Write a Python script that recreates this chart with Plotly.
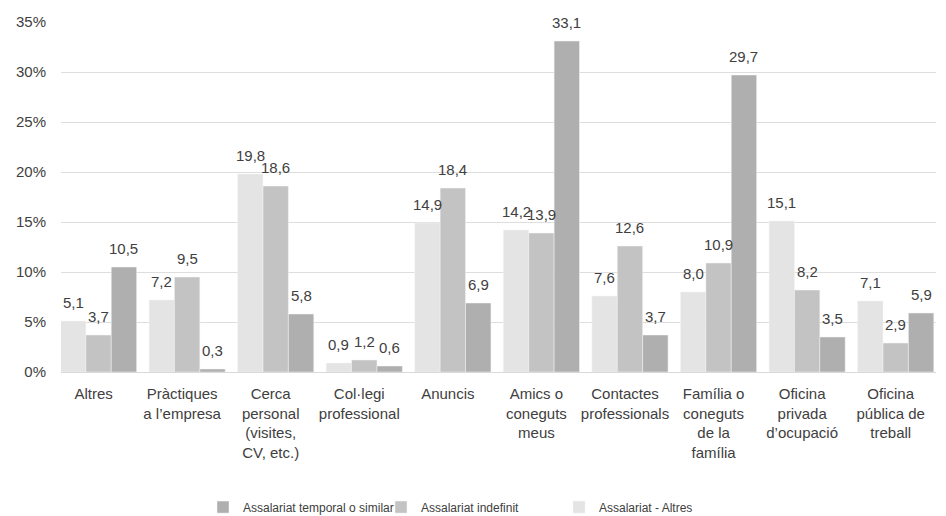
import plotly.graph_objects as go

categories = [
    "Altres",
    "Pràctiques<br>a l’empresa",
    "Cerca<br>personal<br>(visites,<br>CV, etc.)",
    "Col·legi<br>professional",
    "Anuncis",
    "Amics o<br>coneguts<br>meus",
    "Contactes<br>professionals",
    "Família o<br>coneguts<br>de la<br>família",
    "Oficina<br>privada<br>d’ocupació",
    "Oficina<br>pública de<br>treball",
]

altres = [5.1, 7.2, 19.8, 0.9, 14.9, 14.2, 7.6, 8.0, 15.1, 7.1]
indefinit = [3.7, 9.5, 18.6, 1.2, 18.4, 13.9, 12.6, 10.9, 8.2, 2.9]
temporal = [10.5, 0.3, 5.8, 0.6, 6.9, 33.1, 3.7, 29.7, 3.5, 5.9]

series_names = ["Assalariat - Altres", "Assalariat indefinit", "Assalariat temporal o similar"]
series_values = [altres, indefinit, temporal]
series_colors = ["#e4e4e4", "#c3c3c3", "#afafaf"]

y_ticks = [0, 5, 10, 15, 20, 25, 30, 35]
y_tick_labels = ["0%", "5%", "10%", "15%", "20%", "25%", "30%", "35%"]

FONT = "Liberation Sans, Arial, sans-serif"
TXT = "#404040"

BAR_PX = 25.4  # width of one bar in pixels (for label placement)

fig = go.Figure()
for name, vals, col in zip(series_names, series_values, series_colors):
    fig.add_trace(go.Bar(
        x=categories, y=vals, name=name,
        marker=dict(color=col, line=dict(color="#f4f4f4", width=0.5)),
        hoverinfo="x+y+name",
    ))

annotations = []
for i, vals in enumerate(series_values):
    for cat, v in zip(categories, vals):
        annotations.append(dict(
            x=cat, y=v, xref="x", yref="y",
            text=f"{v:.1f}".replace(".", ","),
            showarrow=False, xanchor="center", yanchor="middle",
            xshift=(i - 1) * BAR_PX, yshift=19,
            font=dict(family=FONT, size=15, color=TXT),
        ))

fig.update_layout(
    width=938, height=508,
    margin=dict(l=53, r=10, t=14, b=144, autoexpand=False),
    paper_bgcolor="white", plot_bgcolor="white",
    separators=",.",
    barmode="group", bargap=0.14, bargroupgap=0,
    font=dict(family=FONT, size=15, color=TXT),
    showlegend=True,
    legend=dict(
        orientation="h", traceorder="reversed",
        x=(195 - 53) / 875, xanchor="left", y=-0.386, yanchor="middle",
        font=dict(family=FONT, size=12, color=TXT),
        itemwidth=30, entrywidth=133,
    ),
    annotations=annotations,
)
fig.update_xaxes(
    range=[-0.424, 9.455],
    tickfont=dict(family=FONT, size=15, color=TXT),
    showline=True, linecolor="#d9d9d9", linewidth=1,
    ticks="", tickangle=0,
    ticklabelshift=-5, ticklabelstandoff=8,
)
fig.update_yaxes(
    range=[0, 35], tickvals=y_ticks, ticktext=y_tick_labels,
    tickfont=dict(family=FONT, size=15, color=TXT),
    showgrid=True, gridcolor="#dedede", gridwidth=1,
    zeroline=False, showline=False, ticks="", ticklen=0,
    ticklabelstandoff=14,
)

fig.write_html("out.html")
